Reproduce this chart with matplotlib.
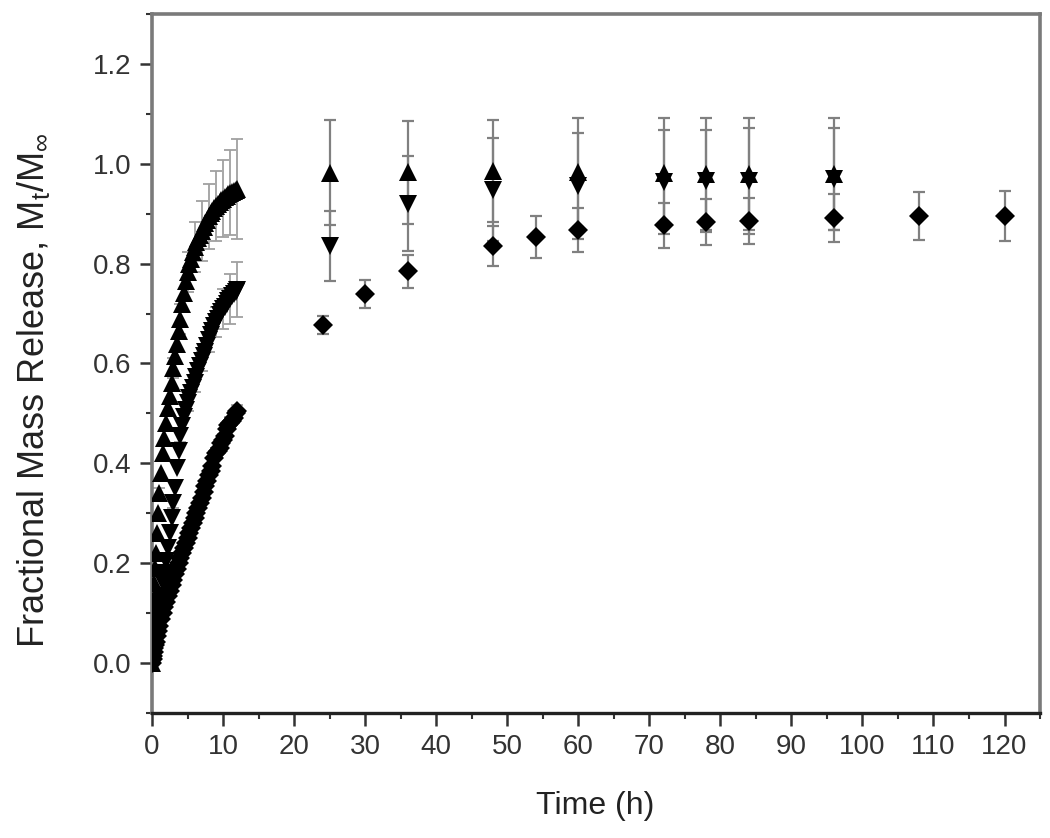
import matplotlib
matplotlib.use("Agg")
import matplotlib.pyplot as plt
from matplotlib.ticker import MultipleLocator

plt.rcParams['font.family'] = ['Liberation Sans', 'DejaVu Sans']
plt.rcParams['mathtext.fontset'] = 'custom'
plt.rcParams['mathtext.rm'] = 'Liberation Sans'
plt.rcParams['mathtext.it'] = 'Liberation Sans'

# ---- early (dense) data, 0-12 h ----
t_early = [0, 0.083, 0.167, 0.25, 0.333, 0.417, 0.5, 0.667, 0.833, 1.0,
           1.25, 1.5, 1.75, 2.0, 2.25, 2.5, 2.75, 3.0, 3.25, 3.5, 3.75, 4.0,
           4.25, 4.5, 4.75, 5.0, 5.25, 5.5, 5.75, 6.0, 6.25, 6.5, 6.75, 7.0,
           7.25, 7.5, 7.75, 8.0, 8.25, 8.5, 8.75, 9.0, 9.25, 9.5, 9.75, 10.0,
           10.25, 10.5, 10.75, 11.0, 11.25, 11.5, 11.75, 12.0]

up_early = [0.00, 0.06, 0.10, 0.13, 0.16, 0.19, 0.22, 0.26, 0.30, 0.34,
            0.38, 0.42, 0.45, 0.48, 0.51, 0.535, 0.56, 0.59, 0.615, 0.64, 0.665, 0.69,
            0.72, 0.742, 0.765, 0.783, 0.80, 0.81, 0.823, 0.833, 0.843, 0.851, 0.858, 0.866,
            0.874, 0.881, 0.888, 0.895, 0.901, 0.906, 0.911, 0.916, 0.920, 0.924, 0.927, 0.930,
            0.933, 0.936, 0.939, 0.942, 0.944, 0.946, 0.948, 0.950]

down_early = [0.00, 0.02, 0.035, 0.045, 0.055, 0.063, 0.07, 0.082, 0.095, 0.11,
              0.135, 0.16, 0.18, 0.205, 0.23, 0.26, 0.29, 0.32, 0.35, 0.39, 0.425, 0.455,
              0.475, 0.493, 0.507, 0.52, 0.53, 0.54, 0.55, 0.56, 0.572, 0.584, 0.594, 0.604,
              0.614, 0.624, 0.636, 0.648, 0.657, 0.666, 0.675, 0.684, 0.69, 0.697, 0.703, 0.709,
              0.714, 0.719, 0.725, 0.73, 0.735, 0.74, 0.744, 0.748]

dia_early = [0.00, 0.008, 0.015, 0.022, 0.03, 0.037, 0.043, 0.055, 0.065, 0.075,
             0.088, 0.10, 0.112, 0.123, 0.134, 0.145, 0.156, 0.167, 0.178, 0.189, 0.20, 0.21,
             0.22, 0.23, 0.24, 0.25, 0.26, 0.27, 0.28, 0.29, 0.30, 0.31, 0.32, 0.33,
             0.343, 0.355, 0.365, 0.377, 0.385, 0.394, 0.41, 0.42, 0.425, 0.43, 0.44, 0.447,
             0.455, 0.468, 0.476, 0.48, 0.485, 0.49, 0.50, 0.505]

# hourly error bars for the early phase (indices of 1..12 h in t_early)
hour_idx = [9, 13, 17, 21, 25, 29, 33, 37, 41, 45, 49, 53]
up_err_hourly = [0.01, 0.015, 0.02, 0.03, 0.04, 0.05, 0.06, 0.065, 0.07, 0.077, 0.085, 0.10]
down_err_hourly = [0.005, 0.008, 0.01, 0.012, 0.015, 0.018, 0.02, 0.025, 0.03, 0.04, 0.05, 0.055]
dia_err_hourly = [0.005, 0.005, 0.006, 0.007, 0.008, 0.008, 0.009, 0.01, 0.01, 0.011, 0.012, 0.012]

# ---- late data ----
t_tri_late = [25, 36, 48, 60, 72, 78, 84, 96]
up_late = [0.982, 0.983, 0.985, 0.983, 0.982, 0.980, 0.980, 0.980]
up_late_err = [0.105, 0.103, 0.102, 0.109, 0.110, 0.112, 0.112, 0.112]
down_late = [0.836, 0.920, 0.948, 0.956, 0.963, 0.965, 0.966, 0.970]
down_late_err = [0.070, 0.095, 0.103, 0.106, 0.104, 0.102, 0.106, 0.102]

t_dia_late = [24, 30, 36, 48, 54, 60, 72, 78, 84, 96, 108, 120]
dia_late = [0.677, 0.740, 0.785, 0.836, 0.853, 0.867, 0.877, 0.884, 0.886, 0.892, 0.895, 0.896]
dia_late_err = [0.018, 0.028, 0.033, 0.040, 0.042, 0.044, 0.045, 0.046, 0.046, 0.048, 0.048, 0.050]

fig = plt.figure(figsize=(10.5, 8.38), dpi=100)
ax = fig.add_axes([0.1448, 0.1492, 0.8457, 0.8341])

ebkw = dict(fmt='none', ecolor='#808080', elinewidth=1.6, capsize=4.5, capthick=1.6, zorder=1)
ebkw_early = dict(fmt='none', ecolor='#a0a0a0', elinewidth=1.3, capsize=4.5, capthick=1.3, zorder=1)

# early error bars
ax.errorbar([t_early[i] for i in hour_idx], [up_early[i] for i in hour_idx],
            yerr=up_err_hourly, **ebkw_early)
ax.errorbar([t_early[i] for i in hour_idx], [down_early[i] for i in hour_idx],
            yerr=down_err_hourly, **ebkw_early)
ax.errorbar([t_early[i] for i in hour_idx], [dia_early[i] for i in hour_idx],
            yerr=dia_err_hourly, **ebkw_early)

# late error bars
ax.errorbar(t_tri_late, up_late, yerr=up_late_err, **ebkw)
ax.errorbar(t_tri_late, down_late, yerr=down_late_err, **ebkw)
ax.errorbar(t_dia_late, dia_late, yerr=dia_late_err, **ebkw)

mk = dict(color='black', linestyle='none', zorder=3, markeredgewidth=0)
ax.plot(t_early, up_early, marker='^', markersize=13, **mk)
ax.plot(t_early, down_early, marker='v', markersize=13, **mk)
ax.plot(t_early, dia_early, marker='D', markersize=10, **mk)
ax.plot(t_tri_late, up_late, marker='^', markersize=13, **mk)
ax.plot(t_tri_late, down_late, marker='v', markersize=13, **mk)
ax.plot(t_dia_late, dia_late, marker='D', markersize=10, **mk)

ax.set_xlim(0, 125)
ax.set_ylim(-0.1, 1.3)
ax.xaxis.set_major_locator(MultipleLocator(10))
ax.xaxis.set_minor_locator(MultipleLocator(5))
ax.yaxis.set_major_locator(MultipleLocator(0.2))
ax.yaxis.set_minor_locator(MultipleLocator(0.1))
ax.yaxis.set_major_formatter(matplotlib.ticker.FormatStrFormatter('%.1f'))

for side in ['left', 'right', 'top']:
    ax.spines[side].set_color('#7a7a7a')
    ax.spines[side].set_linewidth(2.6)
ax.spines['bottom'].set_color('#222222')
ax.spines['bottom'].set_linewidth(2.4)

ax.tick_params(axis='both', which='major', direction='out', length=9, width=1.8,
               color='#333333', labelsize=20, labelcolor='#333333', pad=6)
ax.tick_params(axis='both', which='minor', direction='out', length=4.5, width=1.5, color='#333333')
ax.tick_params(top=False, right=False)

ax.set_xlabel('Time (h)', fontsize=23, color='#222222')
ax.set_ylabel(r'Fractional Mass Release, M$_t$/M$_\infty$', fontsize=26, color='#222222')
ax.xaxis.set_label_coords(0.499, -0.112)
ax.yaxis.set_label_coords(-0.113, 0.462)

fig.savefig('out.png', dpi=100)
